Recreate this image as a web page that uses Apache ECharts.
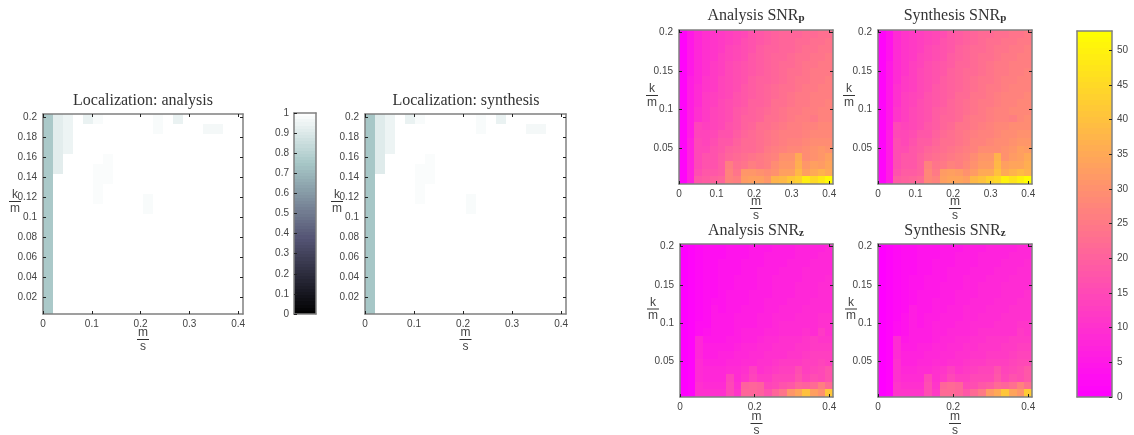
<!DOCTYPE html>
<html><head><meta charset="utf-8">
<style>html,body{margin:0;padding:0;background:#fff}#c{width:1134px;height:435px;filter:blur(.45px)}</style>
<script src="https://cdn.jsdelivr.net/npm/echarts@6/dist/echarts.min.js"></script>
</head><body><div id="c"></div>
<script>
const xEdges=[0,.0205,.041,.0615,.082,.1025,.123,.1435,.164,.1845,.205,.2255,.246,.2665,.287,.3075,.328,.3485,.369,.3895,.41];
const yEdges=[.2035,.1935,.1835,.1735,.1635,.1535,.1435,.1335,.1235,.1135,.1035,.0935,.0835,.0735,.0635,.0535,.0435,.0335,.0235,.0135,.0035];
const locXTicks=[0,.1,.2,.3,.4];
const locYTicks=[.02,.04,.06,.08,.1,.12,.14,.16,.18,.2];
const snrXTicksTop=[0,.1,.2,.3,.4];
const snrXTicksBottom=[0,.2,.4];
const snrYTicks=[.05,.1,.15,.2];
const boneTicks=[0,.1,.2,.3,.4,.5,.6,.7,.8,.9,1];
const springTicks=[0,5,10,15,20,25,30,35,40,45,50];

const locAnalysis=[
[.76,.92,.95,1,.94,.98,1,1,1,1,1,.98,1,.94,1,1,1,1,1,1],
[.76,.92,.95,1,1,1,1,1,1,1,1,.98,1,1,1,1,.97,.97,1,1],
[.76,.92,.95,1,1,1,1,1,1,1,1,1,1,1,1,1,1,1,1,1],
[.76,.92,.95,1,1,1,1,1,1,1,1,1,1,1,1,1,1,1,1,1],
[.76,.92,1,1,1,1,.985,1,1,1,1,1,1,1,1,1,1,1,1,1],
[.76,.92,1,1,1,.985,.985,1,1,1,1,1,1,1,1,1,1,1,1,1],
[.76,1,1,1,1,.985,.985,1,1,1,1,1,1,1,1,1,1,1,1,1],
[.76,1,1,1,1,.985,1,1,1,1,1,1,1,1,1,1,1,1,1,1],
[.76,1,1,1,1,.985,1,1,1,1,.98,1,1,1,1,1,1,1,1,1],
[.76,1,1,1,1,1,1,1,1,1,.98,1,1,1,1,1,1,1,1,1],
[.76,1,1,1,1,1,1,1,1,1,1,1,1,1,1,1,1,1,1,1],
[.76,1,1,1,1,1,1,1,1,1,1,1,1,1,1,1,1,1,1,1],
[.76,1,1,1,1,1,1,1,1,1,1,1,1,1,1,1,1,1,1,1],
[.76,1,1,1,1,1,1,1,1,1,1,1,1,1,1,1,1,1,1,1],
[.76,1,1,1,1,1,1,1,1,1,1,1,1,1,1,1,1,1,1,1],
[.76,1,1,1,1,1,1,1,1,1,1,1,1,1,1,1,1,1,1,1],
[.76,1,1,1,1,1,1,1,1,1,1,1,1,1,1,1,1,1,1,1],
[.76,1,1,1,1,1,1,1,1,1,1,1,1,1,1,1,1,1,1,1],
[.76,1,1,1,1,1,1,1,1,1,1,1,1,1,1,1,1,1,1,1],
[.76,1,1,1,1,1,1,1,1,1,1,1,1,1,1,1,1,1,1,1]];
const locSynthesis=[
[.75,.91,.95,1,.94,.98,1,1,1,1,1,.98,1,.94,1,1,1,1,1,1],
[.75,.91,.95,1,1,1,1,1,1,1,1,.98,1,1,1,1,.97,.97,1,1],
[.75,.91,.95,1,1,1,1,1,1,1,1,1,1,1,1,1,1,1,1,1],
[.75,.91,.95,1,1,1,1,1,1,1,1,1,1,1,1,1,1,1,1,1],
[.75,.91,1,1,1,1,.985,1,1,1,1,1,1,1,1,1,1,1,1,1],
[.75,.91,1,1,1,.985,.985,1,1,1,1,1,1,1,1,1,1,1,1,1],
[.75,1,1,1,1,.985,.985,1,1,1,1,1,1,1,1,1,1,1,1,1],
[.75,1,1,1,1,.985,1,1,1,1,1,1,1,1,1,1,1,1,1,1],
[.75,1,1,1,1,.985,1,1,1,1,.98,1,1,1,1,1,1,1,1,1],
[.75,1,1,1,1,1,1,1,1,1,.98,1,1,1,1,1,1,1,1,1],
[.75,1,1,1,1,1,1,1,1,1,1,1,1,1,1,1,1,1,1,1],
[.75,1,1,1,1,1,1,1,1,1,1,1,1,1,1,1,1,1,1,1],
[.75,1,1,1,1,1,1,1,1,1,1,1,1,1,1,1,1,1,1,1],
[.75,1,1,1,1,1,1,1,1,1,1,1,1,1,1,1,1,1,1,1],
[.75,1,1,1,1,1,1,1,1,1,1,1,1,1,1,1,1,1,1,1],
[.75,1,1,1,1,1,1,1,1,1,1,1,1,1,1,1,1,1,1,1],
[.75,1,1,1,1,1,1,1,1,1,1,1,1,1,1,1,1,1,1,1],
[.75,1,1,1,1,1,1,1,1,1,1,1,1,1,1,1,1,1,1,1],
[.75,1,1,1,1,1,1,1,1,1,1,1,1,1,1,1,1,1,1,1],
[.75,1,1,1,1,1,1,1,1,1,1,1,1,1,1,1,1,1,1,1]];

const snrPAnalysis=[
[1,5,8,10,11,12,13,14,15,17,18,19,20,21,21,21,22,22,23,23],
[1,5,8,10,11,12,13,14,16,17,18,19,20,21,21,22,22,23,23,24],
[1,5,8,10,11,12,14,15,16,17,19,20,20,21,21,22,23,23,24,24],
[1,5,8,10,11,13,14,15,16,18,19,20,21,21,22,23,23,24,24,25],
[1,5,8,10,12,13,15,16,17,18,19,20,21,22,22,23,24,24,25,25],
[1,5,8,10,12,13,15,16,17,18,19,20,21,22,23,23,24,25,25,25],
[1,6,8,11,12,14,15,16,17,19,20,20,21,22,23,24,24,25,25,26],
[1,6,9,11,12,14,15,16,18,19,20,21,22,23,23,24,25,25,26,26],
[1,6,9,12,13,14,15,17,18,19,20,21,22,23,24,25,25,26,26,26],
[1,6,9,12,13,15,16,17,18,20,20,21,23,23,24,25,25,26,26,27],
[1,6,10,12,14,15,16,18,19,20,21,22,23,24,25,25,26,26,27,27],
[1,6,10,12,14,15,16,18,20,20,21,23,23,24,25,26,26,25,27,27],
[1,6,14,13,14,15,17,18,20,21,23,23,24,25,26,26,27,27,28,28],
[1,6,14,14,15,17,17,19,21,22,23,24,25,26,26,26,27,28,28,28],
[1,7,15,14,16,18,18,20,22,22,23,24,25,26,27,27,28,29,29,29],
[1,7,15,15,17,18,20,21,22,22,23,25,26,27,28,28,29,30,31,30],
[1,7,15,17,17,19,21,22,23,24,25,26,27,30,30,35,29,30,31,33],
[1,7,15,17,17,19,26,23,24,26,25,26,29,31,31,36,31,33,32,34],
[1,7,16,18,18,19,27,24,31,31,30,29,30,33,33,38,33,35,37,35],
[1,7,18,19,20,21,27,26,32,33,33,31,37,38,41,43,49,45,48,52]];
const snrPSynthesis=[
[1,4,9,11,12,13,14,15,16,18,19,20,21,22,22,23,23,24,24,25],
[1,4,9,11,12,13,14,15,17,18,19,20,21,22,23,23,24,24,25,25],
[1,4,9,11,12,13,15,16,17,18,20,21,22,22,23,24,24,25,25,26],
[1,4,9,11,12,14,15,16,17,19,20,21,22,23,23,24,25,25,26,26],
[1,5,9,11,13,14,16,17,18,19,21,21,22,23,24,25,25,26,26,26],
[1,5,9,11,13,15,16,17,18,20,21,22,22,23,24,25,25,26,26,27],
[1,5,9,12,13,15,16,17,19,20,21,22,23,24,24,25,26,26,27,27],
[1,5,10,12,13,15,16,18,19,20,21,22,23,24,25,25,26,27,27,27],
[1,5,10,13,14,15,17,18,19,20,22,22,24,24,25,26,27,27,27,28],
[1,5,10,13,14,16,17,18,19,21,22,23,24,25,25,26,27,27,28,28],
[1,5,11,13,15,16,17,19,20,21,22,23,24,25,26,27,27,28,28,28],
[1,5,11,13,15,16,17,19,21,21,22,24,25,25,26,27,27,26,28,29],
[1,5,15,14,15,16,18,19,21,22,24,24,25,26,27,28,28,29,29,29],
[1,6,15,15,16,18,18,20,22,23,24,25,26,27,27,28,29,29,30,30],
[1,6,16,15,17,19,19,21,23,23,24,25,27,27,28,29,29,30,31,31],
[1,6,16,16,18,19,21,22,23,24,25,26,27,29,29,29,30,31,33,32],
[1,6,16,18,18,20,22,23,24,25,26,27,29,31,31,37,30,32,33,35],
[1,6,16,18,18,20,27,24,25,27,26,28,30,32,32,38,33,34,34,36],
[1,6,17,19,19,20,28,25,32,33,32,30,32,35,35,40,35,37,39,37],
[1,6,19,20,21,22,28,27,33,34,34,33,38,40,43,45,50,47,50,53]];
const snrZAnalysis=[
[0,1,2,3,3,3,4,4,4,5,5,5,6,6,6,7,7,7,7,8],
[0,1,2,3,3,3,4,4,4,5,5,6,6,6,6,7,7,7,8,8],
[0,1,2,3,3,4,4,4,5,5,5,6,6,6,7,7,7,8,8,8],
[0,1,2,3,3,4,4,4,5,5,6,6,6,7,7,7,8,8,8,8],
[0,1,2,3,3,4,4,5,5,5,6,6,7,7,7,7,8,8,8,9],
[0,1,2,3,3,4,4,5,5,5,6,6,7,7,7,8,8,8,9,9],
[0,1,2,3,3,4,5,5,5,6,6,6,7,7,7,8,8,8,9,9],
[0,1,2,3,4,4,5,5,5,6,6,7,7,7,8,8,8,9,9,9],
[0,1,2,3,5,4,5,5,6,6,6,7,7,8,8,8,9,9,9,9],
[0,1,2,3,5,5,5,6,6,6,7,7,8,8,8,9,9,9,10,10],
[0,1,3,3,5,5,5,6,6,6,7,7,8,9,9,9,9,9,10,10],
[0,1,3,4,5,5,5,6,7,7,7,8,8,9,9,9,10,9,12,10],
[0,1,8,5,5,5,6,6,7,7,8,9,9,10,10,10,11,12,11,11],
[0,1,8,6,6,6,6,7,8,8,9,9,10,10,10,11,11,12,12,12],
[0,1,8,6,6,7,7,8,8,9,9,10,10,10,11,11,12,13,13,13],
[0,1,9,7,7,7,8,8,9,9,10,10,11,12,12,12,13,13,14,13],
[0,1,9,8,8,8,9,9,10,13,10,11,12,13,13,16,13,14,15,17],
[0,1,9,8,8,8,14,9,11,14,12,12,14,14,14,17,14,16,15,17],
[0,1,10,9,9,9,15,10,20,21,20,14,15,17,18,21,20,22,26,22],
[0,1,10,10,10,10,15,11,21,21,20,17,21,24,31,34,40,33,30,41]];
const snrZSynthesis=[
[0,1,2,3,3,4,4,4,5,5,5,6,6,6,7,7,7,7,8,8],
[0,1,2,3,3,4,4,4,5,5,6,6,6,7,7,7,7,8,8,8],
[0,1,2,3,3,4,4,5,5,5,6,6,6,7,7,7,8,8,8,9],
[0,1,2,3,3,4,4,5,5,6,6,6,7,7,7,8,8,8,9,9],
[0,1,2,3,4,4,5,5,5,6,6,7,7,7,8,8,8,9,9,9],
[0,1,2,3,4,4,5,5,6,6,6,7,7,8,8,8,9,9,9,9],
[0,1,2,3,4,5,5,5,6,6,7,7,7,8,8,8,9,9,9,10],
[0,1,2,3,4,5,5,6,6,6,7,7,8,8,8,9,9,9,10,10],
[0,1,2,3,6,5,5,6,6,7,7,8,8,8,9,9,9,10,10,10],
[0,1,2,4,6,5,6,6,7,7,7,8,8,9,9,9,10,10,10,10],
[0,1,3,4,6,5,6,7,7,7,8,8,9,9,9,10,10,10,11,11],
[0,1,3,4,6,6,6,7,7,8,8,8,9,10,10,10,10,10,12,11],
[0,1,9,5,6,6,6,7,8,8,9,9,10,10,11,11,11,12,12,12],
[0,1,9,6,6,7,7,8,8,9,9,10,10,11,11,11,12,12,13,13],
[0,1,9,7,7,7,8,8,9,9,10,10,11,11,12,12,12,13,14,14],
[0,1,10,7,7,8,8,9,9,10,10,11,12,12,13,13,13,14,15,15],
[0,1,10,8,8,9,9,10,11,13,11,12,13,14,14,17,14,15,16,18],
[0,1,10,9,9,9,15,10,12,15,13,13,15,15,15,18,15,17,16,18],
[0,1,11,10,10,10,16,11,21,22,21,15,16,18,19,22,21,23,27,23],
[0,1,11,11,11,11,16,12,22,22,21,18,22,25,32,35,41,34,31,42]];

const boneStops=['#000000','#1c1c27','#38384d','#545474','#707a8f','#8ba1ab','#a7c7c7','#d3e3e3','#ffffff'];
const springStops=['#ff00ff','#ffff00'];
const boneMax=1, springMax=52.8;

const titleFont='"Liberation Serif",serif';
const txt='#444';
const frame='#808080';
const tick='#222';

const grids=[],xAxes=[],yAxes=[],series=[];
function rectRender(p,api){
  const a=api.coord([api.value(0),api.value(2)]),b=api.coord([api.value(1),api.value(3)]);
  const x0=Math.round(a[0]),x1=Math.round(b[0]),y0=Math.round(b[1]),y1=Math.round(a[1]);
  return {type:'rect',shape:{x:x0,y:y0,width:x1-x0,height:y1-y0},style:{fill:api.visual('color')}};
}
function frac(n,d){return `{n|${n}}\n{bar| }\n{d|${d}}`;}
const fracRich={n:{fontSize:12,color:txt,lineHeight:12,align:'center',fontFamily:'Liberation Sans'},
  d:{fontSize:12,color:txt,lineHeight:13,align:'center',fontFamily:'Liberation Sans'},
  bar:{width:12,height:1,lineHeight:1,fontSize:1,backgroundColor:'#333',align:'center'}};
function lineOpts(){return {show:true,onZero:false,lineStyle:{color:frame,width:1.5}};}
function tickOpts(v){return {show:true,inside:true,length:3,customValues:v,lineStyle:{color:tick,width:1}};}

function addPlot(rect,matrix,xT,yT,yGap,yShift,yFrac,xGap,margin){
  const g=grids.length;
  grids.push({left:rect[0],top:rect[1],width:rect[2],height:rect[3],show:false,outerBoundsMode:'none'});
  const xi=xAxes.length, yi=yAxes.length;
  const xBase={type:'value',gridIndex:g,min:0,max:.41,splitLine:{show:false},z:5,axisLine:lineOpts()};
  const yBase={type:'value',gridIndex:g,min:.0035,max:.2035,splitLine:{show:false},z:5,axisLine:lineOpts()};
  xAxes.push({...xBase,position:'bottom',axisTick:tickOpts(xT),
    axisLabel:{customValues:xT,margin:margin,color:txt,fontSize:10,fontFamily:'Liberation Sans',hideOverlap:false,formatter:v=>String(v)},
    name:frac('m','s'),nameLocation:'middle',nameGap:xGap,nameMoveOverlap:false,nameTextStyle:{rich:fracRich,verticalAlign:'top'}});
  xAxes.push({...xBase,position:'top',axisTick:tickOpts(xT),axisLabel:{show:false}});
  yAxes.push({...yBase,position:'left',axisTick:tickOpts(yT),
    axisLabel:{customValues:yT,margin:margin+1,color:txt,fontSize:10,fontFamily:'Liberation Sans',hideOverlap:false,formatter:v=>String(v)},
    name:yFrac,nameLocation:'middle',nameRotate:0,nameGap:yGap,nameMoveOverlap:false,nameTextStyle:{rich:fracRich,padding:[0,0,yShift,0]}});
  yAxes.push({...yBase,position:'right',axisTick:tickOpts(yT),axisLabel:{show:false}});
  const data=[];
  matrix.forEach((row,t)=>row.forEach((v,c)=>data.push([xEdges[c],xEdges[c+1],yEdges[t+1],yEdges[t],v])));
  series.push({type:'custom',xAxisIndex:xi,yAxisIndex:yi,renderItem:rectRender,clip:true,
    encode:{x:[0,1],y:[2,3]},data,animation:false,silent:true});
  return series.length-1;
}
function addBar(rect,max,ticks,side){
  const g=grids.length;
  grids.push({left:rect[0],top:rect[1],width:rect[2],height:rect[3],show:false,outerBoundsMode:'none'});
  const xi=xAxes.length,yi=yAxes.length;
  xAxes.push({type:'value',gridIndex:g,min:0,max:1,position:'bottom',z:5,axisLine:lineOpts(),axisTick:{show:false},axisLabel:{show:false},splitLine:{show:false}});
  xAxes.push({type:'value',gridIndex:g,min:0,max:1,position:'top',z:5,axisLine:lineOpts(),axisTick:{show:false},axisLabel:{show:false},splitLine:{show:false}});
  yAxes.push({type:'value',gridIndex:g,min:0,max:max,position:side,z:5,axisLine:lineOpts(),axisTick:tickOpts(ticks),
    axisLabel:{customValues:ticks,margin:5,color:txt,fontSize:10,fontFamily:'Liberation Sans',hideOverlap:false,formatter:v=>String(v)},splitLine:{show:false}});
  yAxes.push({type:'value',gridIndex:g,min:0,max:max,position:side==='left'?'right':'left',z:5,axisLine:lineOpts(),axisTick:{show:false},axisLabel:{show:false},splitLine:{show:false}});
  const data=[],n=64;
  for(let i=0;i<n;i++){data.push([0,1,max*i/n,max*(i+1)/n,max*(i+.5)/n]);}
  series.push({type:'custom',xAxisIndex:xi,yAxisIndex:yi,renderItem:rectRender,clip:true,
    encode:{x:[0,1],y:[2,3]},data,animation:false,silent:true});
  return series.length-1;
}
const k_m=frac('k','m');
const s0=addPlot([43,114,200,200],locAnalysis,locXTicks,locYTicks,22,24,k_m,13,5);
const s1=addPlot([365,114,201,200],locSynthesis,locXTicks,locYTicks,22,24,k_m,13,5);
const s2=addPlot([679,30,154,154],snrPAnalysis,snrXTicksTop,snrYTicks,21,22,k_m,12,5);
const s3=addPlot([878,30,154,154],snrPSynthesis,snrXTicksTop,snrYTicks,23,22,k_m,12,5);
const s4=addPlot([680,244,153,153],snrZAnalysis,snrXTicksBottom,snrYTicks,21,22,k_m,14,5);
const s5=addPlot([878,244,154,153],snrZSynthesis,snrXTicksBottom,snrYTicks,21,22,k_m,14,5);
const s6=addBar([294,113,22,201],boneMax,boneTicks,'left');
const s7=addBar([1077,31,35,366],springMax,springTicks,'right');

function ttl(text,x,y){return {text,left:x,top:y,textAlign:'center',padding:0,
  textStyle:{fontFamily:titleFont,fontWeight:'normal',fontSize:16,color:'#333',
    rich:{s:{fontFamily:titleFont,fontWeight:'bold',fontSize:11,color:'#333',verticalAlign:'bottom',padding:[5,0,0,0]}}}};}
const option={animation:false,backgroundColor:'#fff',
  title:[ttl('Localization: analysis',143,93),ttl('Localization: synthesis',466,93),
    ttl('Analysis SNR{s|p}',756,8),ttl('Synthesis SNR{s|p}',955,8),
    ttl('Analysis SNR{s|z}',756,223),ttl('Synthesis SNR{s|z}',955,223)],
  grid:grids,xAxis:xAxes,yAxis:yAxes,series,
  visualMap:[
   {type:'continuous',show:false,min:0,max:boneMax,dimension:4,seriesIndex:[s0,s1,s6],inRange:{color:boneStops}},
   {type:'continuous',show:false,min:0,max:springMax,dimension:4,seriesIndex:[s2,s3,s4,s5,s7],inRange:{color:springStops}}
  ]};
echarts.init(document.getElementById('c'),null,{renderer:'canvas'}).setOption(option);
</script></body></html>
